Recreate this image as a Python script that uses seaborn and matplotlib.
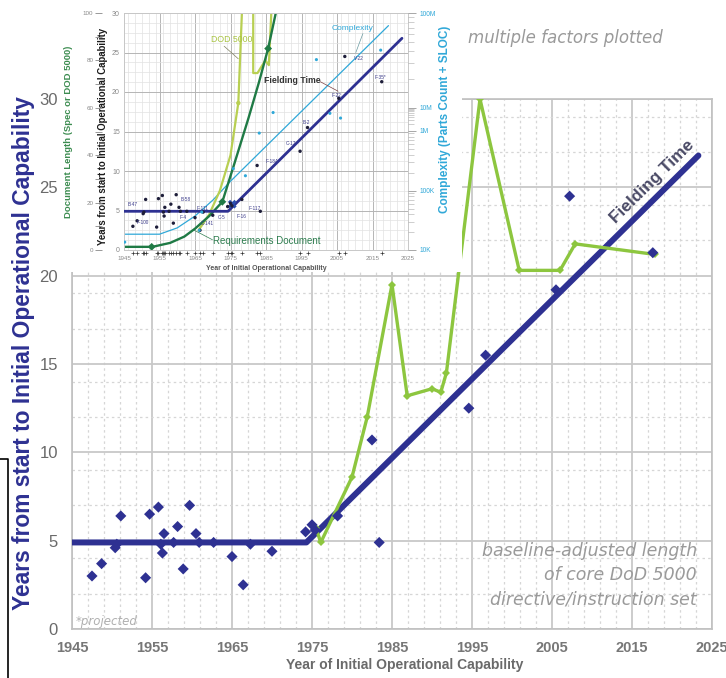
import matplotlib
matplotlib.use('Agg')
import matplotlib.pyplot as plt
import seaborn as sns
import numpy as np
from matplotlib.ticker import FixedLocator, MultipleLocator
from matplotlib.lines import Line2D
from matplotlib.patches import Rectangle

# --- data ---
# programs: year of IOC and years from start to IOC
ioc_years = [1947.5, 1948.7, 1950.4, 1950.6, 1951.1, 1954.2, 1954.7, 1955.8, 1956.1,
             1956.3, 1956.5, 1957.7, 1958.2, 1958.9, 1959.7, 1960.5, 1960.9, 1962.7,
             1965.0, 1966.4, 1967.3, 1970.0, 1974.2, 1975.0, 1975.4, 1978.2, 1982.5,
             1983.4, 1994.6, 1996.7, 2005.5, 2007.2, 2017.6]
ioc_durations = [3.0, 3.7, 4.6, 4.8, 6.4, 2.9, 6.5, 6.9, 4.8,
                 4.3, 5.4, 4.9, 5.8, 3.4, 7.0, 5.4, 4.9, 4.9,
                 4.1, 2.5, 4.8, 4.4, 5.5, 5.9, 5.6, 6.4, 10.7,
                 4.9, 12.5, 15.5, 19.2, 24.5, 21.3]

# fielding time trend
trend_years = [1945, 1974.3, 2023.3]
trend_vals = [4.9, 4.9, 26.8]

# baseline-adjusted DoD 5000 length (plotted on the years scale)
dod_years = [1975.5, 1976.1, 1980.0, 1981.9, 1985.0, 1986.9, 1990.0, 1991.1,
             1991.8, 1996.0, 2000.9, 2006.0, 2007.9, 2017.9]
dod_vals = [5.7, 4.9, 8.6, 12.0, 19.5, 13.2, 13.6, 13.4,
            14.5, 30.0, 20.3, 20.3, 21.8, 21.2]

# inset: requirements document curve
req_years = [1945, 1953, 1958, 1962, 1965, 1969, 1972.7, 1976, 1980, 1983, 1985.6, 1988]
req_vals = [0.4, 0.4, 0.9, 1.7, 2.7, 4.3, 6.1, 10.8, 16.6, 21.2, 25.5, 30.5]
req_mark_years = [1952.8, 1972.7, 1985.6]
req_mark_vals = [0.4, 6.1, 25.5]

# inset: DoD 5000 original line (two pieces, runs off the top)
dod5k_a_years = [1966, 1969, 1972, 1975, 1977.2, 1978.3]
dod5k_a_vals = [2.5, 4.5, 7.5, 12.0, 18.6, 31]
dod5k_b_years = [1981.4, 1981.4, 1982.6, 1984.8, 1985.8, 1986.6]
dod5k_b_vals = [31, 22.4, 22.4, 24.0, 23.4, 31]

# inset: complexity trend and points
cx_trend_years = [1945, 1955, 1960, 1965, 1970, 1975, 2019.5]
cx_trend_vals = [2.0, 2.0, 2.8, 4.3, 6.3, 8.7, 28.4]
cx_years = [1945.2, 1966.2, 1966.9, 1975.8, 1979.2, 1983.1, 1987.0, 1999.2, 2003.0, 2006.0, 2017.3]
cx_vals = [1.0, 2.5, 4.8, 10.3, 9.4, 14.8, 17.4, 24.1, 17.3, 16.7, 25.3]

# inset: program tags
tag_names = ['B-47', 'F-100', 'B-58', 'F-4', 'F-111', 'C-141', 'C-5', 'F-16', 'F-117',
             'F-18A', 'C-17', 'B-2', 'F-22', 'V-22', 'F-35*']
tag_x = [1946.0, 1948.6, 1961.0, 1960.8, 1965.5, 1966.5, 1971.5, 1976.8, 1980.0,
         1985.0, 1990.5, 1995.2, 2003.6, 2009.8, 2015.6]
tag_y = [5.8, 3.5, 6.4, 4.1, 5.3, 3.4, 4.1, 4.3, 5.2,
         11.2, 13.5, 16.1, 19.5, 24.3, 21.8]

# inset right axis (complexity) tick labels
cx_tick_pos = [0, 7.5, 15.1, 18.0, 30]
cx_tick_labels = ['10K', '100K', '1M', '10M', '100M']

NAVY = '#2e3192'
GREEN = '#8dc63f'
DKGREEN = '#1f7a45'
CYAN = '#30a8d8'
OLIVE = '#b8cf52'
GRAY = '#777777'

sns.set_style('white')
plt.rcParams['font.family'] = ['Liberation Sans', 'DejaVu Sans']

fig = plt.figure(figsize=(7.26, 6.78), dpi=100)

# ---------------- main chart ----------------
ax = fig.add_axes([72 / 726, 49 / 678, 640 / 726, 530 / 678])
ax.set_zorder(0)

sns.lineplot(x=trend_years, y=trend_vals, ax=ax, color=NAVY, lw=4.3,
             estimator=None, sort=False, zorder=3)
sns.lineplot(x=dod_years, y=dod_vals, ax=ax, color=GREEN, lw=2.4, marker='D',
             markersize=4, markeredgewidth=0, estimator=None, sort=False, zorder=4)
sns.scatterplot(x=ioc_years, y=ioc_durations, ax=ax, marker='D', s=32, color=NAVY,
                edgecolor='none', zorder=5)

ax.set_xlim(1945, 2025)
ax.set_ylim(0, 30)
ax.set_xticks(range(1945, 2026, 10))
ax.set_yticks(range(0, 31, 5))
ax.xaxis.set_minor_locator(FixedLocator(np.arange(1947, 2025, 2)))
ax.yaxis.set_minor_locator(FixedLocator([2, 4, 7, 9, 12, 14, 17, 19, 22, 24, 27, 29]))
ax.grid(which='major', color='#c8c8c8', lw=1.3)
ax.grid(which='minor', color='#d6d6d6', lw=0.9, ls=(0, (2, 2.5)))
ax.set_axisbelow(True)
for s in ax.spines.values():
    s.set_color('#c0c0c0')
    s.set_linewidth(1.2)
ax.tick_params(which='major', direction='out', length=5, color='#aaaaaa', width=1.2)
ax.tick_params(which='minor', length=0)
ax.tick_params(axis='x', labelsize=10.5, labelcolor=GRAY, pad=4)
ax.tick_params(axis='y', labelsize=12, labelcolor='#6a6a6a', pad=5)
for lab in ax.get_xticklabels():
    lab.set_fontweight('bold')

ax.set_ylabel('Years from start to Initial Operational Capability', fontsize=16.4,
              fontweight='bold', color=NAVY)
ax.yaxis.set_label_coords((35 - 72) / 640, 0.52)
ax.set_xlabel('Year of Initial Operational Capability', fontsize=10,
              fontweight='bold', color='#6a6a6a')
ax.xaxis.set_label_coords(0.52, (629 - 658) / 530)

ax.text(2017.5, 25.3, 'Fielding Time', rotation=44.6, rotation_mode='anchor',
        ha='center', va='center', fontsize=12.4, fontweight='bold', color='#4a4a66',
        zorder=6)

fig.text(468 / 726, 1 - 38 / 678, 'multiple factors plotted', fontsize=12,
         style='italic', color='#9a9a9a', va='center', ha='left',
         family=['DejaVu Sans'])
note_lines = ['baseline-adjusted length', 'of core DoD 5000', 'directive/instruction set']
for i, line in enumerate(note_lines):
    fig.text(697 / 726, 1 - (551 + 24.5 * i) / 678, line, fontsize=12.5,
             style='italic', color='#9a9a9a', ha='right', va='center',
             family=['DejaVu Sans'])
fig.text(76 / 726, 1 - 621 / 678, '*projected', fontsize=8.5, style='italic',
         color='#b0b0b0', ha='left', va='center', family=['DejaVu Sans'])

fig.add_artist(Line2D([0, 8 / 726, 8 / 726], [1 - 459 / 678, 1 - 459 / 678, 0],
                      color='black', lw=1.2, transform=fig.transFigure))

# ---------------- inset ----------------
fig.add_artist(Rectangle((58 / 726, 1 - 272 / 678), 404 / 726, 272 / 678,
                         transform=fig.transFigure, facecolor='white',
                         edgecolor='none', zorder=1))

ax_in = fig.add_axes([124 / 726, 1 - 250 / 678, 284 / 726, 237 / 678])
ax_in.set_zorder(2)
ax_in.set_xlim(1945, 2025)
ax_in.set_ylim(0, 30)
ax_in.set_xticks(range(1945, 2026, 10))
ax_in.set_yticks(range(0, 31, 5))
ax_in.xaxis.set_minor_locator(MultipleLocator(2))
ax_in.yaxis.set_minor_locator(MultipleLocator(1.25))
ax_in.grid(which='major', color='#b5b5b5', lw=0.7)
ax_in.grid(which='minor', color='#e2e2e2', lw=0.5)
ax_in.set_axisbelow(True)
for s in ax_in.spines.values():
    s.set_color('#c8c8c8')
    s.set_linewidth(0.7)
ax_in.tick_params(which='both', length=0)
ax_in.tick_params(axis='x', labelsize=4.5, labelcolor='#888888', pad=4)
ax_in.tick_params(axis='y', labelsize=5, labelcolor='#888888', pad=3)

sns.lineplot(x=cx_trend_years, y=cx_trend_vals, ax=ax_in, color=CYAN, lw=0.9,
             estimator=None, sort=False)
sns.lineplot(x=dod5k_a_years, y=dod5k_a_vals, ax=ax_in, color=OLIVE, lw=1.6,
             estimator=None, sort=False)
sns.lineplot(x=dod5k_b_years, y=dod5k_b_vals, ax=ax_in, color=OLIVE, lw=1.6,
             estimator=None, sort=False)
sns.scatterplot(x=[dod5k_a_years[4]], y=[dod5k_a_vals[4]], ax=ax_in, s=10,
                color=OLIVE, edgecolor='none', zorder=4)
sns.lineplot(x=req_years, y=req_vals, ax=ax_in, color=DKGREEN, lw=1.7,
             estimator=None, sort=False)
sns.scatterplot(x=req_mark_years, y=req_mark_vals, ax=ax_in, marker='D', s=16,
                color=DKGREEN, edgecolor='none', zorder=5)
sns.lineplot(x=trend_years, y=trend_vals, ax=ax_in, color=NAVY, lw=2.0,
             estimator=None, sort=False, zorder=4)
sns.scatterplot(x=[1975.5], y=[5.8], ax=ax_in, marker='X', s=40, color='#2b4fb0',
                edgecolor='none', zorder=6)
sns.scatterplot(x=ioc_years, y=ioc_durations, ax=ax_in, s=6, color='#1e1e3a',
                edgecolor='none', zorder=6)
sns.scatterplot(x=cx_years, y=cx_vals, ax=ax_in, s=5, color=CYAN,
                edgecolor='none', zorder=6)
sns.scatterplot(x=ioc_years, y=[-0.35] * len(ioc_years), ax=ax_in, marker='+',
                s=6, color='#333333', linewidth=0.5, clip_on=False, zorder=6)

for name, tx, ty in zip(tag_names, tag_x, tag_y):
    ax_in.text(tx, ty, name, fontsize=3.4, color='#3a3a8a', ha='left', va='center',
               zorder=7)

ax_in.text(1969.5, 26.6, 'DOD 5000', fontsize=6.3, color='#a9c444', ha='left',
           va='center')
ax_in.plot([1973.2, 1977.2], [25.8, 24.2], color='#808060', lw=0.5)
ax_in.text(2003.5, 28.1, 'Complexity', fontsize=6, color=CYAN, ha='left', va='center')
ax_in.plot([2012.3, 2010.3], [27.4, 25.0], color='#6a9aa0', lw=0.5)
ax_in.text(1992.5, 21.4, 'Fielding Time', fontsize=6.3, color='#333333',
           fontweight='bold', ha='center', va='center')
ax_in.plot([2000.3, 2005.3], [21.3, 20.1], color='#7a4040', lw=0.5)
ax_in.text(1970.1, 1.2, 'Requirements Document', fontsize=7, color='#2e7d4f',
           ha='left', va='center')
ax_in.plot([1964.8, 1969.9], [2.5, 1.3], color='#2e7d4f', lw=0.5)

ax_in.set_xlabel('Year of Initial Operational Capability', fontsize=5,
                 fontweight='bold', color='#555555', labelpad=3)
ax_in.set_ylabel('Years from start to Initial Operational Capability', fontsize=6.9,
                 fontweight='bold', color='#1a1a1a')
ax_in.yaxis.set_label_coords((108 - 124) / 284, 0.48)

# document length axis (outer left)
ax_doc = ax_in.twinx()
ax_doc.set_zorder(2.1)
ax_doc.set_ylim(0, 100)
ax_doc.yaxis.set_ticks_position('left')
ax_doc.yaxis.set_label_position('left')
ax_doc.spines['left'].set_position(('outward', 21))
for s in ax_doc.spines.values():
    s.set_visible(False)
ax_doc.set_yticks(range(0, 101, 20))
ax_doc.yaxis.set_minor_locator(MultipleLocator(10))
ax_doc.tick_params(which='both', direction='in', length=5, width=0.6, color='#888888',
                   labelsize=4.5, labelcolor='#888888', pad=1)
ax_doc.set_ylabel('Document Length (Spec or DOD 5000)', fontsize=6.8,
                  fontweight='bold', color='#3c8c50')
ax_doc.yaxis.set_label_coords((73 - 124) / 284, 0.5)

# complexity axis (right)
ax_cx = ax_in.twinx()
ax_cx.set_zorder(2.2)
ax_cx.set_ylim(0, 30)
for s in ax_cx.spines.values():
    s.set_visible(False)
ax_cx.set_yticks(cx_tick_pos)
ax_cx.set_yticklabels(cx_tick_labels)
ax_cx.yaxis.set_minor_locator(FixedLocator(
    list(7.5 * np.log10(np.arange(2, 10))) + list(7.5 + 7.6 * np.log10(np.arange(2, 10)))
    + list(15.1 + 2.9 * np.log10(np.arange(2, 10))) + list(18 + 12 * np.log10(np.arange(2, 10)))))
ax_cx.tick_params(which='major', length=6, width=0.6, color='#999999', labelsize=4.8,
                  labelcolor=CYAN, pad=2)
ax_cx.tick_params(which='minor', length=4, width=0.4, color='#aaaaaa')
ax_cx.set_ylabel('Complexity (Parts Count + SLOC)', fontsize=8.5, fontweight='bold',
                 color=CYAN)
ax_cx.yaxis.set_label_coords((439 - 124) / 284, (250 - 119) / 237)

fig.savefig('out.png', dpi=100)
